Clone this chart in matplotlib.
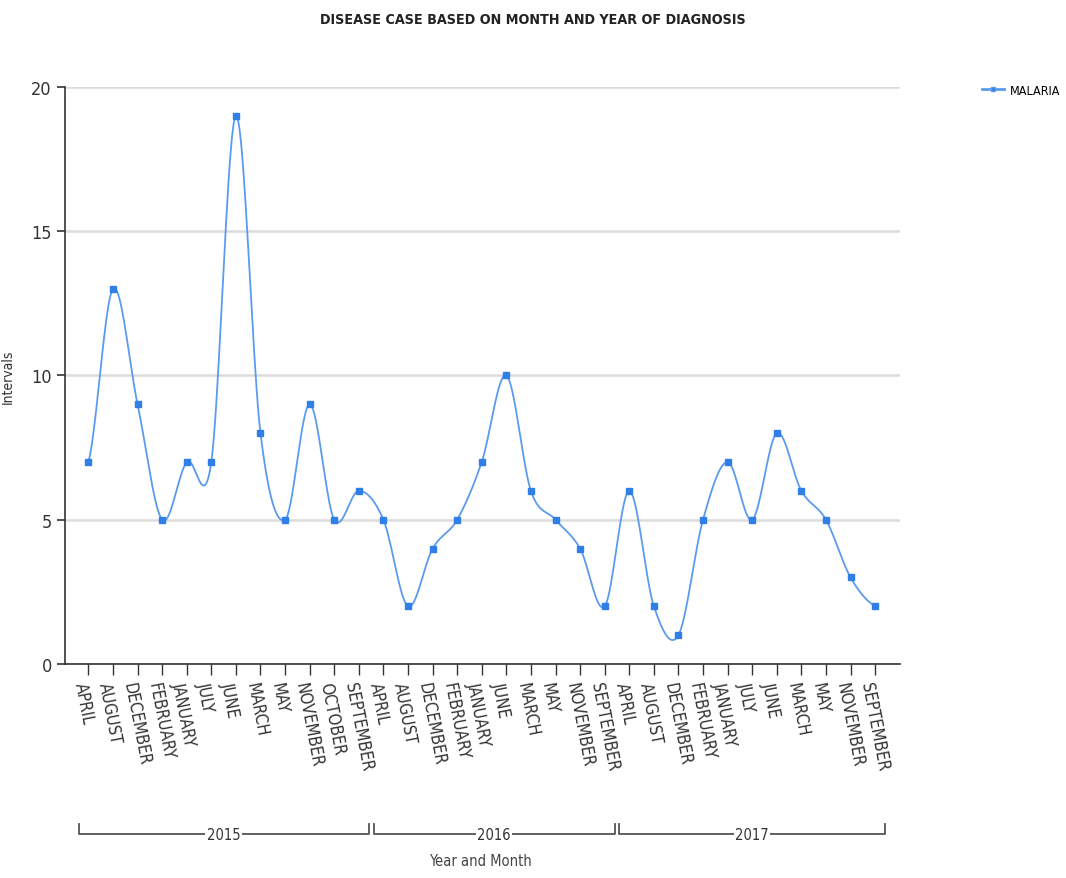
import numpy as np
import matplotlib.pyplot as plt
import matplotlib.transforms as mtransforms

plt.rcParams['font.family'] = ['DejaVu Sans']
plt.rcParams['font.stretch'] = 'condensed'

# data
years = ['2015', '2016', '2017']
months_2015 = ['APRIL', 'AUGUST', 'DECEMBER', 'FEBRUARY', 'JANUARY', 'JULY', 'JUNE',
               'MARCH', 'MAY', 'NOVEMBER', 'OCTOBER', 'SEPTEMBER']
months_2016 = ['APRIL', 'AUGUST', 'DECEMBER', 'FEBRUARY', 'JANUARY', 'JUNE', 'MARCH',
               'MAY', 'NOVEMBER', 'SEPTEMBER']
months_2017 = ['APRIL', 'AUGUST', 'DECEMBER', 'FEBRUARY', 'JANUARY', 'JULY', 'JUNE',
               'MARCH', 'MAY', 'NOVEMBER', 'SEPTEMBER']
malaria_2015 = [7, 13, 9, 5, 7, 7, 19, 8, 5, 9, 5, 6]
malaria_2016 = [5, 2, 4, 5, 7, 10, 6, 5, 4, 2]
malaria_2017 = [6, 2, 1, 5, 7, 5, 8, 6, 5, 3, 2]

months = months_2015 + months_2016 + months_2017
values = np.array(malaria_2015 + malaria_2016 + malaria_2017, dtype=float)
group_sizes = [len(months_2015), len(months_2016), len(months_2017)]
x = np.arange(len(months), dtype=float)


def catmull_rom(xs, ys, n=20):
    px = np.concatenate([[2 * xs[0] - xs[1]], xs, [2 * xs[-1] - xs[-2]]])
    py = np.concatenate([[ys[0]], ys, [ys[-1]]])
    out_x, out_y = [], []
    t = np.linspace(0, 1, n, endpoint=False)
    for i in range(1, len(px) - 2):
        for p, out in ((px, out_x), (py, out_y)):
            p0, p1, p2, p3 = p[i - 1], p[i], p[i + 1], p[i + 2]
            out.extend(0.5 * (2 * p1 + (-p0 + p2) * t + (2 * p0 - 5 * p1 + 4 * p2 - p3) * t ** 2
                              + (-p0 + 3 * p1 - 3 * p2 + p3) * t ** 3))
    out_x.append(xs[-1])
    out_y.append(ys[-1])
    return np.array(out_x), np.array(out_y)


fig = plt.figure(figsize=(10.66, 8.79), dpi=100)
ax = fig.add_axes([0.061, 0.2435, 0.783, 0.6565])

line_color = '#5b9bef'
marker_color = '#2f7fe6'
sx, sy = catmull_rom(x, values)
ax.plot(sx, sy, color=line_color, lw=1.3, zorder=3)
ax.plot(x, values, ls='none', marker='s', ms=5, color=marker_color, zorder=4)

ax.set_xlim(-0.95, len(months) - 1 + 1.0)
ax.set_ylim(0, 20)
ax.set_yticks([0, 5, 10, 15, 20])
ax.yaxis.grid(True, color='#dcdcdc', lw=1.8)
ax.set_axisbelow(True)
for s in ['top', 'right']:
    ax.spines[s].set_visible(False)
for s in ['left', 'bottom']:
    ax.spines[s].set_color('#333333')
    ax.spines[s].set_linewidth(1.2)
ax.tick_params(axis='y', length=6, width=1.2, color='#333333', labelsize=13, labelcolor='#333333')
ax.tick_params(axis='x', length=8, width=1, color='#333333', labelsize=12, labelcolor='#333333')
ax.set_xticks(x)
ax.set_xticklabels(months, rotation=-79, ha='left', va='top', rotation_mode='anchor')
ax.set_ylabel('Intervals', fontsize=10, color='#333333', labelpad=12)

# year brackets
trans = mtransforms.blended_transform_factory(ax.transData, ax.transAxes)
start = 0
for year, n in zip(years, group_sizes):
    x0, x1 = start - 0.4, start + n - 1 + 0.4
    ax.plot([x0, x0, x1, x1], [-0.278, -0.295, -0.295, -0.278], transform=trans,
            color='#555555', lw=1.3, clip_on=False)
    ax.text((x0 + x1) / 2, -0.295, year, transform=trans, ha='center', va='center',
            fontsize=10.5, color='#333333', bbox=dict(facecolor='white', edgecolor='none', pad=1))
    start += n

fig.text(0.451, 1 - 862 / 879, 'Year and Month', ha='center', va='center', fontsize=10.5, color='#444444')
fig.text(0.5, 1 - 20 / 879, 'DISEASE CASE BASED ON MONTH AND YEAR OF DIAGNOSIS',
         ha='center', va='center', fontsize=10.3, fontweight='bold', color='#222222')

handle = plt.Line2D([], [], color=line_color, marker='s', ms=3, markerfacecolor=marker_color, lw=2)
ax.legend(handles=[handle], labels=['MALARIA'], loc='upper left', bbox_to_anchor=(1.085, 1.025),
          frameon=False, fontsize=9, handlelength=1.8, handletextpad=0.4)

fig.savefig('out.png', dpi=100)
